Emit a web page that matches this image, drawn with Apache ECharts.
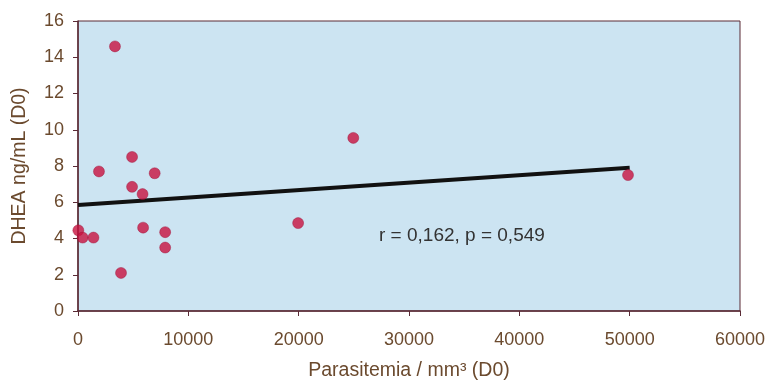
<!DOCTYPE html>
<html><head><meta charset="utf-8">
<script src="https://cdn.jsdelivr.net/npm/echarts@6/dist/echarts.min.js"></script>
<style>html,body{margin:0;padding:0;background:#fff}#c{width:768px;height:381px}</style>
</head><body><div id="c"></div>
<script>
var parasitemia = [3350, 4900, 1900, 6950, 4900, 5850, 30, 420, 1400, 5900, 7900, 7900, 3900, 24950, 19950, 49850];
var dhea = [14.6, 8.5, 7.7, 7.6, 6.85, 6.45, 4.45, 4.05, 4.05, 4.6, 4.35, 3.5, 2.1, 9.55, 4.85, 7.5];
var fitX = [0, 50000];
var fitY = [5.85, 7.9];
var statText = 'r = 0,162, p = 0,549';
var xTitle = 'Parasitemia / mm³ (D0)';
var yTitle = 'DHEA ng/mL (D0)';

var txt = '#6b4a2e', axisCol = '#5a2a35';
var chart = echarts.init(document.getElementById('c'));
chart.setOption({
  animation: false,
  textStyle: {fontFamily: 'Liberation Sans'},
  grid: {left: 78, right: 28, top: 21, bottom: 70, containLabel: false, outerBoundsMode: 'none',
         show: true, backgroundColor: '#cce4f2', borderColor: axisCol, borderWidth: 1},
  xAxis: {
    type: 'value', min: 0, max: 60000, interval: 10000,
    name: xTitle, nameLocation: 'middle', nameGap: 50,
    nameTextStyle: {color: txt, fontSize: 19.5, fontFamily: 'Liberation Sans'},
    axisLine: {show: true, lineStyle: {color: axisCol, width: 1.5}},
    axisTick: {show: true, length: 5, lineStyle: {color: axisCol}},
    axisLabel: {color: txt, fontSize: 18, margin: 20, formatter: function (v) { return String(v); }},
    splitLine: {show: false}
  },
  yAxis: {
    type: 'value', min: 0, max: 16, interval: 2,
    name: yTitle, nameLocation: 'middle', nameGap: 48,
    nameTextStyle: {color: txt, fontSize: 19.5, fontFamily: 'Liberation Sans'},
    axisLine: {show: true, lineStyle: {color: axisCol, width: 1.5}},
    axisTick: {show: true, length: 5, lineStyle: {color: axisCol}},
    axisLabel: {color: txt, fontSize: 18, margin: 14},
    splitLine: {show: false}
  },
  series: [
    {
      type: 'line', data: fitX.map(function (x, i) { return [x, fitY[i]]; }),
      symbol: 'none', lineStyle: {color: '#111', width: 4}, z: 2
    },
    {
      type: 'scatter', data: parasitemia.map(function (x, i) { return [x, dhea[i]]; }),
      symbolSize: 11, itemStyle: {color: '#c8123f', borderColor: '#9a0d35', borderWidth: 0.5}, z: 3
    }
  ],
  graphic: [{
    type: 'text', left: 379, top: 226,
    style: {text: statText, fill: '#333', font: '19px "Liberation Sans"'}
  }]
});
</script></body></html>
